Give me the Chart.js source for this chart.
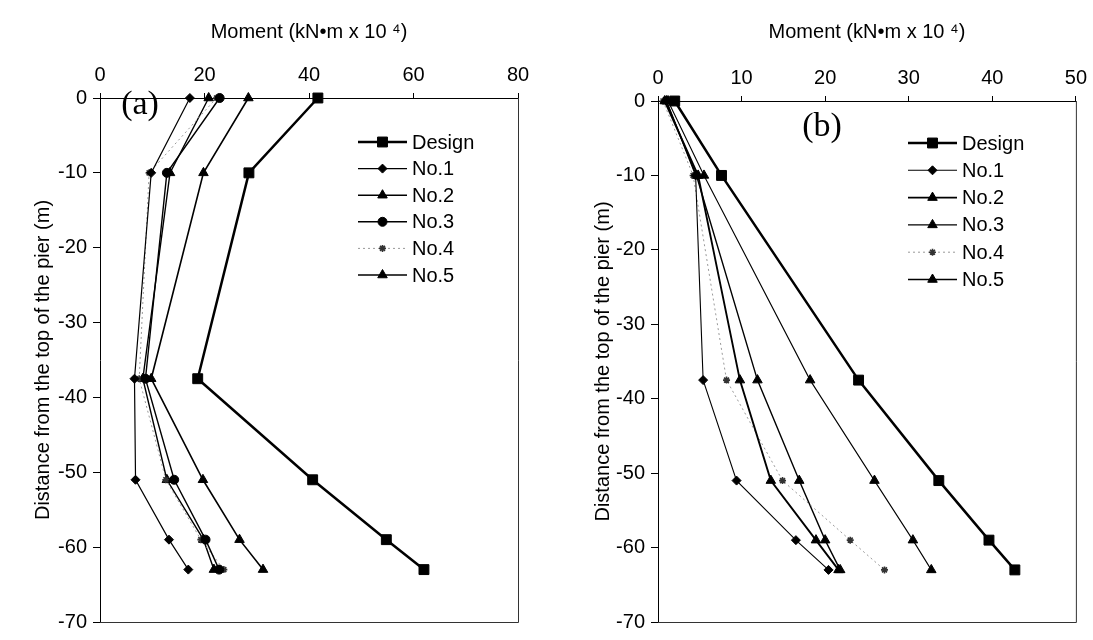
<!DOCTYPE html>
<html><head><meta charset="utf-8">
<script src="https://cdn.jsdelivr.net/npm/chart.js@4.4.1/dist/chart.umd.min.js"></script>
<style>
html,body{margin:0;padding:0;background:#fff;}
#wrap{position:relative;width:1093px;height:640px;overflow:hidden;}
.c{position:absolute;top:0;}
</style></head><body>
<div id="wrap">
<div class="c" style="left:0"><canvas id="ca" width="546" height="640"></canvas></div>
<div class="c" style="left:546px"><canvas id="cb" width="547" height="640"></canvas></div>
</div>
<script>
// ---- data ----
const depths = [0, -10, -37.5, -51, -59, -63];
const seriesNames = ['Design', 'No.1', 'No.2', 'No.3', 'No.4', 'No.5'];
const xTicksA = [0, 20, 40, 60, 80];
const xTicksB = [0, 10, 20, 30, 40, 50];
const yTicks = [0, -10, -20, -30, -40, -50, -60, -70];
// panel (a)
const designA = [41.7, 28.5, 18.7, 40.7, 54.8, 62.0];
const no1A = [17.2, 9.8, 6.6, 6.8, 13.2, 16.9];
const no2A = [28.4, 19.8, 9.8, 19.7, 26.7, 31.2];
const no3A = [22.9, 12.8, 8.7, 14.2, 20.2, 22.8];
const no4A = [22.3, 9.4, 7.5, 12.6, 19.3, 23.7];
const no5A = [20.8, 13.4, 8.2, 12.8, 19.8, 21.8];
// panel (b)
const designB = [2.0, 7.6, 24.0, 33.6, 39.6, 42.7];
const no1B = [1.0, 4.5, 5.4, 9.4, 16.5, 20.4];
const no2B = [0.8, 4.8, 9.8, 13.5, 18.9, 21.6];
const no3B = [1.2, 5.5, 18.2, 25.9, 30.5, 32.7];
const no4B = [0.6, 4.2, 8.2, 14.9, 23.0, 27.1];
const no5B = [1.0, 4.6, 11.9, 16.9, 20.0, 21.8];

const FONT = '"Liberation Sans", Arial, sans-serif';
const stylesA = [
  {pointStyle: 'rect', radius: 7, borderWidth: 2.5, color: '#000', dash: []},
  {pointStyle: 'rectRot', radius: 4.5, borderWidth: 1.2, color: '#000', dash: []},
  {pointStyle: 'triangle', radius: 5.5, borderWidth: 1.6, color: '#000', dash: []},
  {pointStyle: 'circle', radius: 4.5, borderWidth: 1.4, color: '#000', dash: []},
  {pointStyle: 'star', radius: 3.5, borderWidth: 1, color: '#999', dash: [2, 3], pointColor: '#333'},
  {pointStyle: 'triangle', radius: 5.5, borderWidth: 1.4, color: '#000', dash: []}
];
const stylesB = [
  {pointStyle: 'rect', radius: 7, borderWidth: 2.5, color: '#000', dash: []},
  {pointStyle: 'rectRot', radius: 4.5, borderWidth: 1.1, color: '#000', dash: []},
  {pointStyle: 'triangle', radius: 5.5, borderWidth: 1.9, color: '#000', dash: []},
  {pointStyle: 'triangle', radius: 5.5, borderWidth: 1.1, color: '#000', dash: []},
  {pointStyle: 'star', radius: 3.5, borderWidth: 1, color: '#999', dash: [2, 3], pointColor: '#333'},
  {pointStyle: 'triangle', radius: 5.5, borderWidth: 1.4, color: '#000', dash: []}
];

function makeDatasets(seriesList, styles) {
  return seriesList.map((vals, i) => {
    const s = styles[i];
    return {
      label: seriesNames[i],
      data: vals.map((v, k) => ({x: v, y: depths[k]})),
      showLine: true,
      borderColor: s.color,
      borderWidth: s.borderWidth,
      borderDash: s.dash,
      backgroundColor: s.pointColor || '#000',
      pointBackgroundColor: s.pointColor || '#000',
      pointBorderColor: s.pointColor || '#000',
      pointBorderWidth: s.pointStyle === 'star' ? 1.6 : 1,
      pointStyle: s.pointStyle,
      pointRadius: s.radius,
      pointHoverRadius: s.radius,
      tension: 0,
      clip: false
    };
  });
}

const decor = {
  id: 'decor',
  afterDraw(chart, args, o) {
    const ctx = chart.ctx;
    const a = chart.chartArea;
    ctx.save();
    ctx.strokeStyle = '#333';
    ctx.lineWidth = 1;
    ctx.beginPath();
    ctx.moveTo(a.right + 0.5, a.top);
    ctx.lineTo(a.right + 0.5, a.bottom + 0.5);
    ctx.lineTo(a.left, a.bottom + 0.5);
    ctx.stroke();
    // panel label
    ctx.fillStyle = '#000';
    ctx.font = o.labelSize + 'px "Liberation Serif", "Times New Roman", serif';
    ctx.textAlign = 'center';
    ctx.textBaseline = 'middle';
    ctx.fillText(o.label, o.labelX, o.labelY);
    // legend
    chart.data.datasets.forEach((ds, i) => {
      const y = o.legY + i * o.legDY;
      ctx.save();
      ctx.strokeStyle = ds.borderColor;
      ctx.lineWidth = ds.borderWidth;
      ctx.setLineDash(ds.borderDash || []);
      ctx.beginPath();
      ctx.moveTo(o.legX, y);
      ctx.lineTo(o.legX + o.legLen, y);
      ctx.stroke();
      ctx.setLineDash([]);
      ctx.fillStyle = ds.pointBackgroundColor;
      ctx.strokeStyle = ds.pointBorderColor;
      ctx.lineWidth = ds.pointBorderWidth;
      Chart.helpers.drawPoint(ctx, {pointStyle: ds.pointStyle, radius: ds.pointRadius, rotation: 0, borderWidth: ds.pointBorderWidth}, o.legX + o.legLen / 2, y);
      ctx.restore();
      ctx.fillStyle = '#000';
      ctx.font = '20px ' + FONT;
      ctx.textAlign = 'left';
      ctx.textBaseline = 'middle';
      ctx.fillText(ds.label, o.legX + o.legLen + 5, y + 1);
    });
    ctx.restore();
  }
};

function makeChart(id, seriesList, styles, xMax, xTicks, cfg) {
  return new Chart(document.getElementById(id), {
    type: 'scatter',
    data: {datasets: makeDatasets(seriesList, styles)},
    plugins: [decor],
    options: {
      responsive: false,
      animation: false,
      events: [],
      layout: {padding: {left: 0, top: 20, right: cfg.padRight, bottom: cfg.padBottom}},
      plugins: {
        legend: {display: false},
        tooltip: {enabled: false},
        decor: cfg.decor
      },
      scales: {
        x: {
          type: 'linear', position: 'top', min: 0, max: xMax,
          afterBuildTicks: s => { s.ticks = xTicks.map(v => ({value: v})); },
          afterFit: s => { s.height = cfg.xHeight; },
          ticks: {font: {family: FONT, size: 20}, color: '#000', padding: 6},
          grid: {drawOnChartArea: false, drawTicks: true, tickLength: 5, color: '#000'},
          border: {display: true, color: '#000', width: 1},
          title: {display: true, text: 'Moment (kN\u2022m x 10 \u2074)', font: {family: FONT, size: 20}, color: '#000', padding: {top: 0, bottom: 0}}
        },
        y: {
          type: 'linear', position: 'left', min: -70, max: 0,
          afterBuildTicks: s => { s.ticks = yTicks.map(v => ({value: v})); },
          afterFit: s => { s.width = cfg.yWidth; },
          ticks: {font: {family: FONT, size: 20}, color: '#000', padding: 6},
          grid: {drawOnChartArea: false, drawTicks: true, tickLength: 7, color: '#000'},
          border: {display: true, color: '#000', width: 1},
          title: {display: true, text: 'Distance from the top of the pier (m)', font: {family: FONT, size: 20}, color: '#000', padding: {top: cfg.yTitlePad, bottom: 0}}
        }
      }
    }
  });
}

makeChart('ca', [designA, no1A, no2A, no3A, no4A, no5A], stylesA, 80, xTicksA, {
  padRight: 28, padBottom: 7, xHeight: 78, yWidth: 100, yTitlePad: 31,
  decor: {label: '(a)', labelX: 140, labelY: 105, labelSize: 34, legX: 358, legLen: 49, legY: 142, legDY: 26.6}
});
makeChart('cb', [designB, no1B, no2B, no3B, no4B, no5B], stylesB, 50, xTicksB, {
  padRight: 15, padBottom: 8, xHeight: 81, yWidth: 112, yTitlePad: 45,
  decor: {label: '(b)', labelX: 276, labelY: 127, labelSize: 34, legX: 362, legLen: 49, legY: 143, legDY: 27.3}
});
</script>
</body></html>
